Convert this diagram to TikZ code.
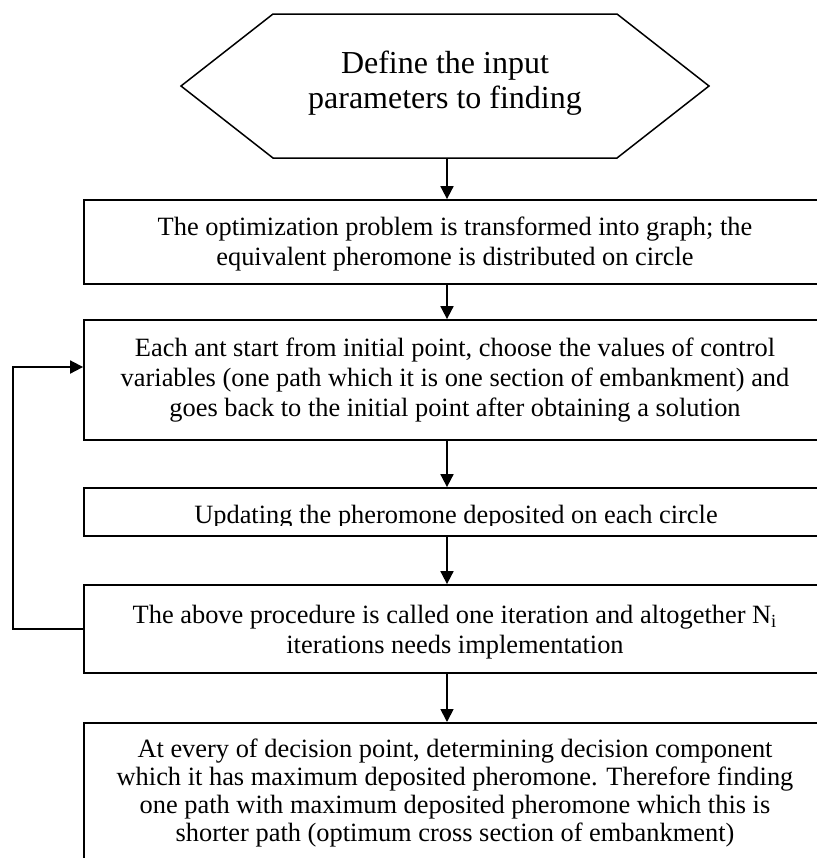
\documentclass[tikz,border=0pt]{standalone}
\usepackage{fontspec}
\setmainfont{Liberation Serif}
\usetikzlibrary{arrows.meta}

\tikzset{
  stepbox/.style={draw, line width=0.9pt, minimum width=371pt, inner sep=0pt},
  boxtext/.style={align=center, inner sep=0pt, font=\fontsize{13.2}{15}\selectfont},
  flow/.style={-{Triangle[length=6.5pt,width=6.5pt]}, line width=0.9pt}
}

\begin{document}
\begin{tikzpicture}[x=0.5pt,y=-0.5pt]
    \clip (0,0) rectangle (817,858);
    % start: hexagon
    \coordinate (HL) at (181,86);
    \coordinate (HTL) at (273,14);
    \coordinate (HTR) at (617,14);
    \coordinate (HR) at (709,86);
    \coordinate (HBR) at (617,158);
    \coordinate (HBL) at (273,158);
    \draw[line width=0.75pt] (HL) -- (HTL) -- (HTR) -- (HR) -- (HBR) -- (HBL) -- cycle;
    \node[align=center, inner sep=0pt, font=\fontsize{16}{17.5}\selectfont] (def) at (445,83) {Define the input\\parameters to finding};
    \coordinate (hexbot) at (447,158);

    % process boxes
    \node[stepbox, minimum height=42pt] (opt) at (455,242) {};
    \node[boxtext] (opttext) at (455,244) {The optimization problem is transformed into graph; the\\equivalent pheromone is distributed on circle};
    \node[stepbox, minimum height=60pt] (each) at (455,380) {};
    \node[boxtext] (eachtext) at (each.center) {Each ant start from initial point, choose the values of control\\variables (one path which it is one section of embankment) and\\goes back to the initial point after obtaining a solution};
    \node[stepbox, minimum height=24pt] (upd) at (455,512) {};
    \begin{scope}
        \clip (84,488) rectangle (826,525);
        \node[boxtext, anchor=base] (updtext) at (456,523) {Updating the pheromone deposited on each circle};
    \end{scope}
    \node[stepbox, minimum height=44pt] (iter) at (455,629) {};
    \node[boxtext] (itertext) at (455,632) {The above procedure is called one iteration and altogether N\textsubscript{i}\\iterations needs implementation};
    \node[stepbox, minimum height=90pt, anchor=north] (dec) at (455,722) {};
    \node[boxtext, anchor=north, font=\fontsize{13.2}{14}\selectfont] (dectext) at (455,738) {At every of decision point, determining decision component\\which it has maximum deposited pheromone. Therefore finding\\one path with maximum deposited pheromone which this is\\shorter path (optimum cross section of embankment)};

    % connectors
    \draw[flow] (hexbot) -- (hexbot |- opt.north);
    \draw[flow] (hexbot |- opt.south) -- (hexbot |- each.north);
    \draw[flow] (hexbot |- each.south) -- (hexbot |- upd.north);
    \draw[flow] (hexbot |- upd.south) -- (hexbot |- iter.north);
    \draw[flow] (hexbot |- iter.south) -- (hexbot |- dec.north);
    % loop back
    \coordinate (loop) at (13,367);
    \draw[flow] (iter.west) -| (loop) -- (loop -| each.west);
\end{tikzpicture}
\end{document}
